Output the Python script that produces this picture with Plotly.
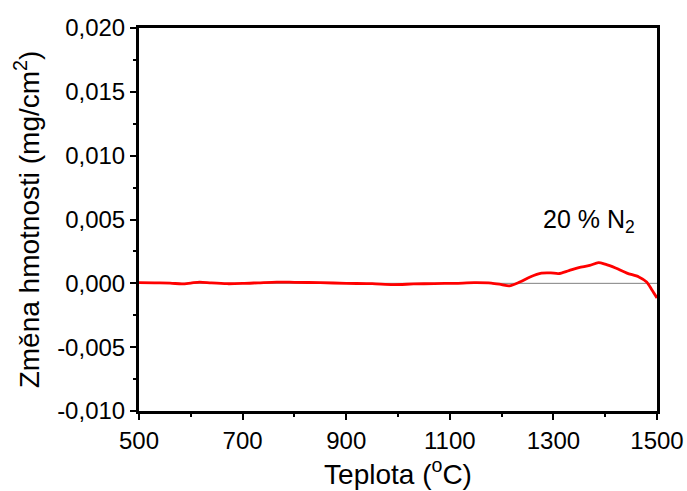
import plotly.graph_objects as go

# Temperature (°C) and mass change (mg/cm2) for the 20 % N2 atmosphere run
teplota = [500, 530, 560, 583, 600, 617, 640, 670, 700, 730, 766, 800, 850, 900,
           950, 991, 1030, 1070, 1110, 1147, 1180, 1200, 1215, 1235, 1255, 1277,
           1295, 1310, 1330, 1349, 1370, 1387, 1400, 1420, 1442, 1465, 1480, 1490, 1500]
zmena = [0.00005, 0.00003, 0.00002, -0.00005, 0.00002, 0.0001, 0.00003, -0.00003, -0.00001,
         0.00004, 0.0001, 0.00008, 0.00005, 0.0, -0.00003, -0.0001, -0.00005, -0.00002,
         0.0, 0.00005, 0.00002, -0.0001, -0.0002, 0.0001, 0.0005, 0.0008, 0.00082, 0.00076,
         0.001, 0.00123, 0.0014, 0.00162, 0.0015, 0.0012, 0.0008, 0.0005, 0.0001, -0.0005,
         -0.00115]

x_ticks = [500, 700, 900, 1100, 1300, 1500]
y_ticks = [-0.010, -0.005, 0.000, 0.005, 0.010, 0.015, 0.020]
# Czech decimal comma, plain hyphen for negatives
y_labels = [f"{v:.3f}".replace(".", ",") for v in y_ticks]

FONT = "Liberation Sans, Arial"

fig = go.Figure()

# zero reference line
fig.add_trace(go.Scatter(x=[500, 1500], y=[0, 0], mode="lines",
                         line=dict(color="#808080", width=1), hoverinfo="skip"))

fig.add_trace(go.Scatter(x=teplota, y=zmena, mode="lines",
                         line=dict(color="#ff0000", width=2.8, shape="spline", smoothing=0.8)))

fig.add_annotation(x=1368, y=0.0049, text="20 % N<sub>2</sub>", showarrow=False,
                   font=dict(size=25, color="black", family=FONT))

axis_common = dict(showline=True, linewidth=3, linecolor="black", mirror=True,
                   ticks="outside", ticklen=6, tickwidth=2, tickcolor="black",
                   showgrid=False, zeroline=False, automargin=False,
                   tickfont=dict(size=24, color="black", family=FONT))

fig.update_xaxes(range=[500, 1500], tickvals=x_ticks, ticktext=[str(v) for v in x_ticks],
                 minor=dict(dtick=100, ticks="outside", ticklen=3, tickwidth=2, tickcolor="black"),
                 title=dict(text="Teplota (<sup>o</sup>C)", standoff=10,
                            font=dict(size=28, color="black", family=FONT)),
                 **axis_common)
fig.update_yaxes(range=[-0.010, 0.020], tickvals=y_ticks, ticktext=y_labels,
                 minor=dict(dtick=0.0025, ticks="outside", ticklen=3, tickwidth=2, tickcolor="black"),
                 title=dict(text="Změna hmotnosti (mg/cm<sup>2</sup>)", standoff=10,
                            font=dict(size=28, color="black", family=FONT)),
                 **axis_common)

fig.update_layout(width=687, height=491,
                  margin=dict(l=139, r=30, t=28, b=80),
                  plot_bgcolor="white", paper_bgcolor="white", showlegend=False)

fig.write_html("out.html")
